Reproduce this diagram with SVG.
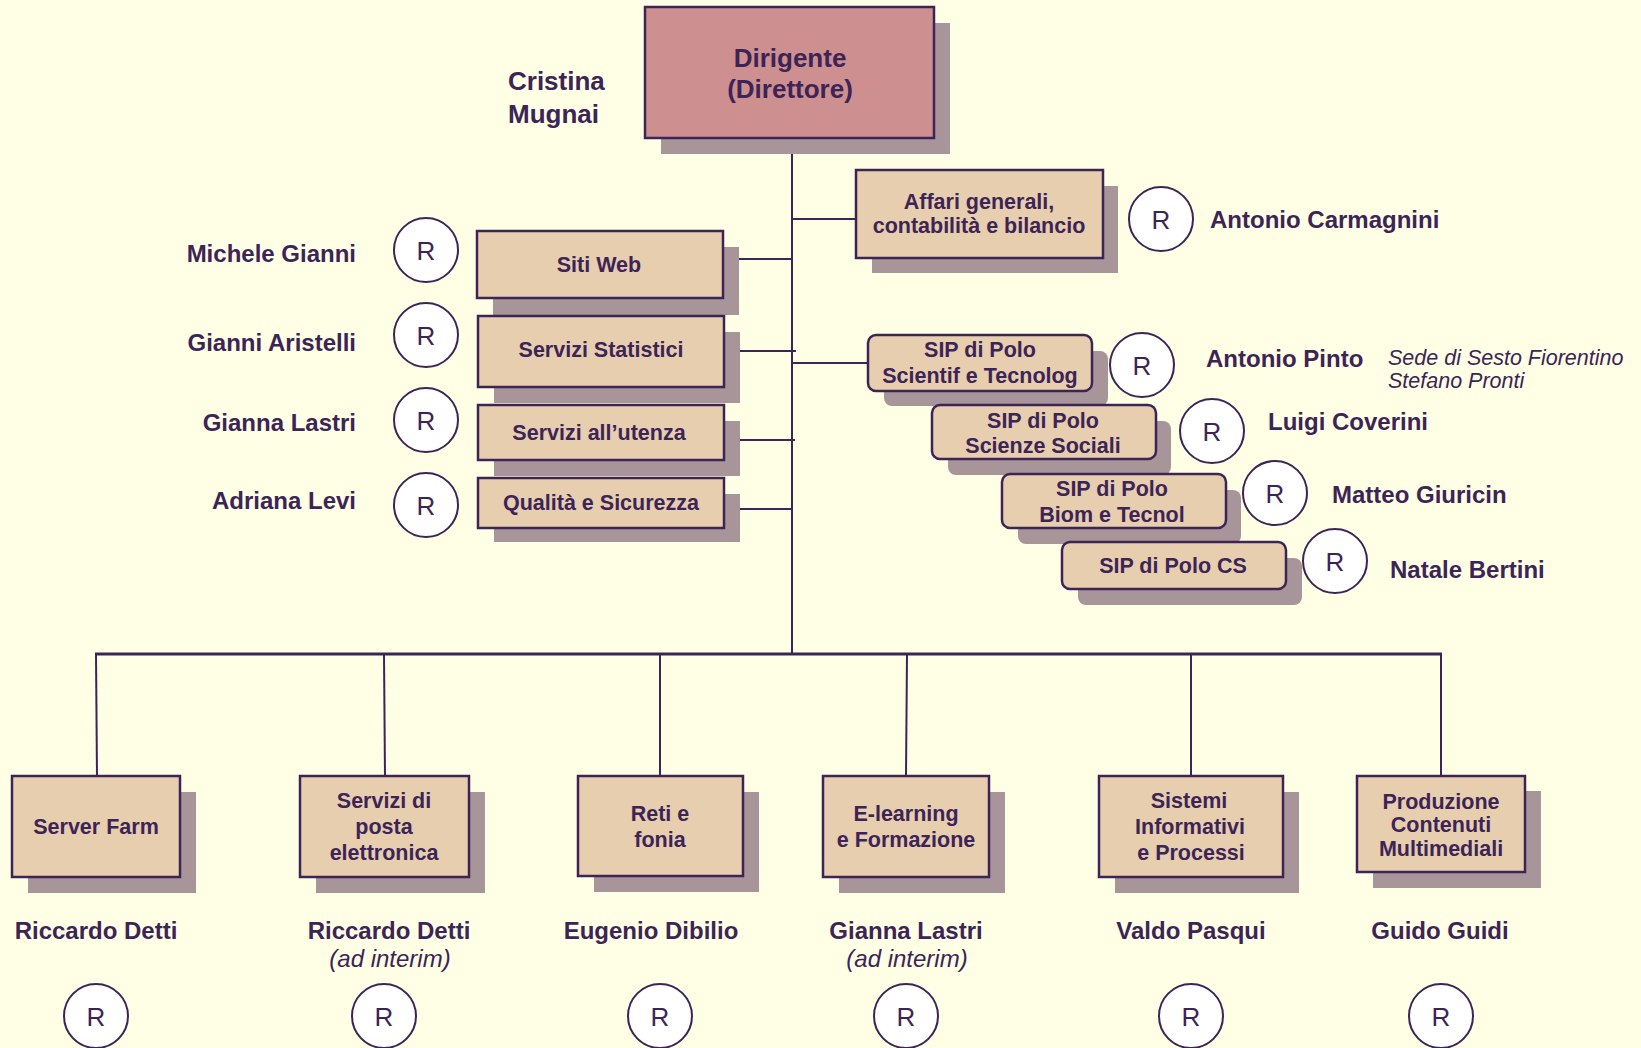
<svg xmlns="http://www.w3.org/2000/svg" width="1641" height="1048" viewBox="0 0 1641 1048">
<style>
.bg{fill:#FFFFE6}
.sh{fill:#A8959A}
.box{fill:#E6CEAF;stroke:#3D2456;stroke-width:2.5}
.top{fill:#CD8F90;stroke:#3D2456;stroke-width:2.5}
.ln{stroke:#3D2456;stroke-width:2;fill:none}
.bar{stroke:#3D2456;stroke-width:3;fill:none}
.rc{fill:#FFFFFF;stroke:#3D2456;stroke-width:2}
text{font-family:"Liberation Sans",Arial,sans-serif;fill:#3D2456}
.bt{font-size:21.5px;font-weight:bold;text-anchor:middle}
.nm{font-size:24px;font-weight:bold}
.it{font-size:24px;font-style:italic;text-anchor:middle}
.it2{font-size:21.5px;font-style:italic}
.r{font-size:26px;text-anchor:middle}
.c{text-anchor:middle}
.e{text-anchor:end}
</style>
<rect class="bg" x="0" y="0" width="1641" height="1048"/>

<g id="connectors">
<line class="ln" x1="792" y1="138" x2="792" y2="654"/>
<line class="bar" x1="95" y1="654" x2="1442" y2="654"/>
<line class="ln" x1="96" y1="654" x2="97" y2="776"/>
<line class="ln" x1="384" y1="654" x2="385" y2="776"/>
<line class="ln" x1="660" y1="654" x2="660" y2="776"/>
<line class="ln" x1="907" y1="654" x2="906" y2="776"/>
<line class="ln" x1="1191" y1="654" x2="1191" y2="776"/>
<line class="ln" x1="1441" y1="654" x2="1441" y2="776"/>
<line class="ln" x1="792" y1="219" x2="856" y2="219"/>
<line class="ln" x1="792" y1="363" x2="868" y2="363"/>
<line class="ln" x1="739" y1="259" x2="793" y2="259"/>
<line class="ln" x1="740" y1="351" x2="796" y2="351"/>
<line class="ln" x1="740" y1="440" x2="795" y2="440"/>
<line class="ln" x1="740" y1="509" x2="793" y2="509"/>
</g>

<g id="dirigente">
<rect class="sh" x="661" y="23" width="289" height="131"/>
<rect class="top" x="645" y="7" width="289" height="131"/>
<text x="790" y="67" class="c" style="font-size:26px;font-weight:bold">Dirigente</text>
<text x="790" y="98" class="c" style="font-size:26px;font-weight:bold">(Direttore)</text>
</g>
<g id="cristina">
<text x="508" y="90" style="font-size:26px;font-weight:bold">Cristina</text>
<text x="508" y="123" style="font-size:26px;font-weight:bold">Mugnai</text>
</g>

<g id="affari">
<rect class="sh" x="872" y="186" width="246" height="87"/>
<rect class="box" x="856" y="170" width="247" height="88"/>
<text x="979" y="209" class="bt">Affari generali,</text>
<text x="979" y="233" class="bt">contabilità e bilancio</text>
<circle class="rc" cx="1161" cy="219" r="32"/>
<text x="1161" y="229" class="r">R</text>
<text x="1210" y="228" class="nm">Antonio Carmagnini</text>
</g>

<g id="siti-web">
<rect class="sh" x="493" y="247" width="246" height="68"/>
<rect class="box" x="477" y="231" width="246" height="67"/>
<text x="599" y="272" class="bt">Siti Web</text>
<circle class="rc" cx="426" cy="250" r="32"/>
<text x="426" y="260" class="r">R</text>
<text x="356" y="262" class="nm e">Michele Gianni</text>
</g>
<g id="servizi-statistici">
<rect class="sh" x="494" y="332" width="246" height="71"/>
<rect class="box" x="478" y="316" width="246" height="71"/>
<text x="601" y="357" class="bt">Servizi Statistici</text>
<circle class="rc" cx="426" cy="335" r="32"/>
<text x="426" y="345" class="r">R</text>
<text x="356" y="351" class="nm e">Gianni Aristelli</text>
</g>
<g id="servizi-utenza">
<rect class="sh" x="494" y="421" width="246" height="55"/>
<rect class="box" x="478" y="405" width="246" height="55"/>
<text x="599" y="440" class="bt">Servizi all’utenza</text>
<circle class="rc" cx="426" cy="420" r="32"/>
<text x="426" y="430" class="r">R</text>
<text x="356" y="431" class="nm e">Gianna Lastri</text>
</g>
<g id="qualita">
<rect class="sh" x="494" y="494" width="246" height="48"/>
<rect class="box" x="478" y="478" width="246" height="50"/>
<text x="601" y="510" class="bt">Qualità e Sicurezza</text>
<circle class="rc" cx="426" cy="505" r="32"/>
<text x="426" y="515" class="r">R</text>
<text x="356" y="509" class="nm e">Adriana Levi</text>
</g>

<g id="sip-scientif">
<rect class="sh" x="884" y="351" width="224" height="55" rx="8"/>
<rect class="box" x="868" y="335" width="224" height="56" rx="8"/>
<text x="980" y="357" class="bt">SIP di Polo</text>
<text x="980" y="383" class="bt">Scientif e Tecnolog</text>
<circle class="rc" cx="1142" cy="365" r="32"/>
<text x="1142" y="375" class="r">R</text>
<text x="1206" y="367" class="nm">Antonio Pinto</text>
<text x="1388" y="365" class="it2">Sede di Sesto Fiorentino</text>
<text x="1388" y="388" class="it2">Stefano Pronti</text>
</g>
<g id="sip-sociali">
<rect class="sh" x="948" y="421" width="223" height="54" rx="8"/>
<rect class="box" x="932" y="405" width="224" height="54" rx="8"/>
<text x="1043" y="428" class="bt">SIP di Polo</text>
<text x="1043" y="453" class="bt">Scienze Sociali</text>
<circle class="rc" cx="1212" cy="431" r="32"/>
<text x="1212" y="441" class="r">R</text>
<text x="1268" y="430" class="nm">Luigi Coverini</text>
</g>
<g id="sip-biom">
<rect class="sh" x="1018" y="490" width="223" height="54" rx="8"/>
<rect class="box" x="1002" y="474" width="224" height="54" rx="8"/>
<text x="1112" y="496" class="bt">SIP di Polo</text>
<text x="1112" y="522" class="bt">Biom e Tecnol</text>
<circle class="rc" cx="1275" cy="493" r="32"/>
<text x="1275" y="503" class="r">R</text>
<text x="1332" y="503" class="nm">Matteo Giuricin</text>
</g>
<g id="sip-cs">
<rect class="sh" x="1078" y="558" width="224" height="47" rx="8"/>
<rect class="box" x="1062" y="542" width="224" height="47" rx="8"/>
<text x="1173" y="573" class="bt">SIP di Polo CS</text>
<circle class="rc" cx="1335" cy="561" r="32"/>
<text x="1335" y="571" class="r">R</text>
<text x="1390" y="578" class="nm">Natale Bertini</text>
</g>

<g id="server-farm">
<rect class="sh" x="28" y="792" width="168" height="101"/>
<rect class="box" x="12" y="776" width="168" height="101"/>
<text x="96" y="834" class="bt">Server Farm</text>
<text x="96" y="939" class="nm c">Riccardo Detti</text>
<circle class="rc" cx="96" cy="1016" r="32"/>
<text x="96" y="1026" class="r">R</text>
</g>
<g id="posta">
<rect class="sh" x="316" y="792" width="169" height="101"/>
<rect class="box" x="300" y="776" width="169" height="101"/>
<text x="384" y="808" class="bt">Servizi di</text>
<text x="384" y="834" class="bt">posta</text>
<text x="384" y="860" class="bt">elettronica</text>
<text x="389" y="939" class="nm c">Riccardo Detti</text>
<text x="390" y="967" class="it">(ad interim)</text>
<circle class="rc" cx="384" cy="1016" r="32"/>
<text x="384" y="1026" class="r">R</text>
</g>
<g id="reti">
<rect class="sh" x="594" y="792" width="165" height="100"/>
<rect class="box" x="578" y="776" width="165" height="100"/>
<text x="660" y="821" class="bt">Reti e</text>
<text x="660" y="847" class="bt">fonia</text>
<text x="651" y="939" class="nm c">Eugenio Dibilio</text>
<circle class="rc" cx="660" cy="1016" r="32"/>
<text x="660" y="1026" class="r">R</text>
</g>
<g id="elearning">
<rect class="sh" x="839" y="792" width="166" height="101"/>
<rect class="box" x="823" y="776" width="166" height="101"/>
<text x="906" y="821" class="bt">E-learning</text>
<text x="906" y="847" class="bt">e Formazione</text>
<text x="906" y="939" class="nm c">Gianna Lastri</text>
<text x="907" y="967" class="it">(ad interim)</text>
<circle class="rc" cx="906" cy="1016" r="32"/>
<text x="906" y="1026" class="r">R</text>
</g>
<g id="sistemi">
<rect class="sh" x="1115" y="792" width="184" height="101"/>
<rect class="box" x="1099" y="776" width="184" height="101"/>
<text x="1189" y="808" class="bt">Sistemi</text>
<text x="1190" y="834" class="bt">Informativi</text>
<text x="1191" y="860" class="bt">e Processi</text>
<text x="1191" y="939" class="nm c">Valdo Pasqui</text>
<circle class="rc" cx="1191" cy="1016" r="32"/>
<text x="1191" y="1026" class="r">R</text>
</g>
<g id="produzione">
<rect class="sh" x="1373" y="791" width="168" height="97"/>
<rect class="box" x="1357" y="776" width="168" height="96"/>
<text x="1441" y="809" class="bt">Produzione</text>
<text x="1441" y="832" class="bt">Contenuti</text>
<text x="1441" y="856" class="bt">Multimediali</text>
<text x="1440" y="939" class="nm c">Guido Guidi</text>
<circle class="rc" cx="1441" cy="1016" r="32"/>
<text x="1441" y="1026" class="r">R</text>
</g>
</svg>
